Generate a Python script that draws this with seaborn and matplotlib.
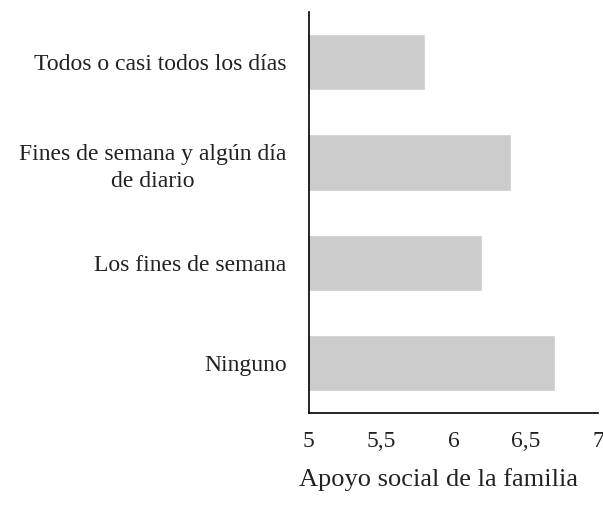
import matplotlib
matplotlib.use("Agg")
import matplotlib.pyplot as plt
import seaborn as sns
import pandas as pd
from matplotlib.ticker import FuncFormatter

# categorias y valores medios
categorias = ["Todos o casi todos los días",
              "Fines de semana y algún día\nde diario",
              "Los fines de semana",
              "Ninguno"]
valores = [5.8, 6.4, 6.2, 6.7]
ticks_x = [5, 5.5, 6, 6.5, 7]

df = pd.DataFrame({"cat": categorias, "valor": valores})

sns.set_style("white")
plt.rcParams["font.family"] = ["Liberation Serif", "DejaVu Serif"]

fig = plt.figure(figsize=(6.03, 5.05), dpi=100)
ax = fig.add_axes([0.512, 0.182, 0.48, 0.794])
sns.barplot(data=df, x="valor", y="cat", color="#cccccc", width=0.56,
            saturation=1, ax=ax)
ax.set_xlim(5, 7)
ax.set_xticks(ticks_x)
ax.xaxis.set_major_formatter(FuncFormatter(lambda v, p: ("%g" % v).replace(".", ",")))
ax.set_ylabel("")
ax.set_xlabel("Apoyo social de la familia", fontsize=19, color="#222222")
ax.xaxis.set_label_coords(0.45, -0.138)
ax.tick_params(axis="x", labelsize=17, length=0, pad=13, colors="#222222")
ax.tick_params(axis="y", labelsize=17, length=0, pad=16, colors="#222222")
for lab in ax.get_yticklabels():
    lab.set_multialignment("center")
    lab.set_linespacing(1.35)
sns.despine(ax=ax)
ax.spines["left"].set_color("black")
ax.spines["bottom"].set_color("black")
ax.spines["left"].set_linewidth(1.2)
ax.spines["bottom"].set_linewidth(1.2)

fig.savefig("out.png", dpi=100)
